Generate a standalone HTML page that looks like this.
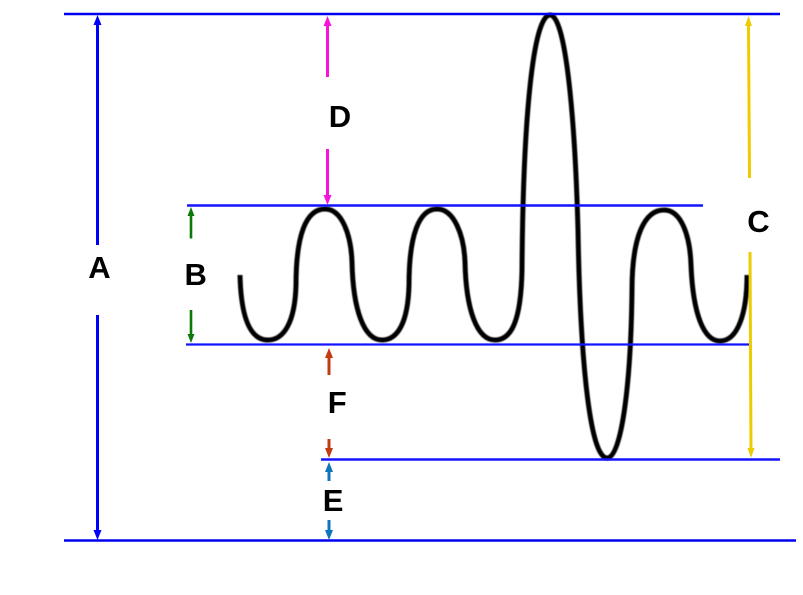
<!DOCTYPE html>
<html>
<head>
<meta charset="utf-8">
<style>
html,body{margin:0;padding:0;background:#fff;width:803px;height:595px;overflow:hidden}
svg{display:block}
text{font-family:"Liberation Sans",sans-serif;font-weight:bold;font-size:31px;fill:#000}
</style>
</head>
<body>
<svg width="803" height="595" viewBox="0 0 803 595" xmlns="http://www.w3.org/2000/svg">
<defs><filter id="soft" x="-5%" y="-5%" width="110%" height="110%"><feGaussianBlur stdDeviation="0.5"/></filter></defs>
<rect width="803" height="595" fill="#fff"/>
<path filter="url(#soft)" d="M240 275C241 318 250 340 268 340C284 340 295 322 296 285C296 235 306 209 325 209C342 209 351 235 352 262C353 310 364 340 382 340C398 340 408 322 409 285C409 235 419 209 437 209C454 209 464 235 465 262C466 310 477 340 495 340C511 340 521 322 522 270C523 120 533 15 550 15C566 15 575 120 578 230C580 350 589 458 607 458C622 458 631 380 632 290C632 235 645 210 664 210C681 210 690 235 691 265C693 315 704 341 720 341C737 341 747 315 747 275" fill="none" stroke="#000" stroke-width="5"/>
<g stroke="#1414ff" fill="none">
<path d="M64 14H780" stroke="#0000f0" stroke-width="2.4"/>
<path d="M64 540.5H796" stroke="#0000f0" stroke-width="2.4"/>
<path d="M187 205.5H703" stroke-width="2.6"/>
<path d="M186 344.5H749" stroke-width="2.2"/>
<path d="M321 459.500H780" stroke-width="2.6"/>
</g>
<g stroke="#0000ff" stroke-width="3"><path d="M97.5 24V245M97.5 315V532"/></g>
<path d="M97.5 15L93.500 25H101.500ZM97.5 540L93.500 530H101.500Z" fill="#0000ff"/>
<g stroke="#f414dc" stroke-width="3"><path d="M327.5 24V77M327.5 149V198"/></g>
<path d="M327.5 16L323.500 26H331.500ZM327.5 205L323.500 195H331.500Z" fill="#f414dc"/>
<g stroke="#0b7a0b" stroke-width="2.6"><path d="M191 214V238.500M191 310V336"/></g>
<path d="M191 207L187.500 216H194.500ZM191 343L187.500 334H194.500Z" fill="#0b7a0b"/>
<g stroke="#c23a10" stroke-width="3"><path d="M329 356V375M329 439V451"/></g>
<path d="M329 348L325 358H333ZM329 458L325 448H333Z" fill="#c23a10"/>
<g stroke="#0f75bd" stroke-width="3"><path d="M329 469V481M329 520V533"/></g>
<path d="M329 462L325 472H333ZM329 540L325 530H333Z" fill="#0f75bd"/>
<g stroke="#eccc00" stroke-width="3"><path d="M748.500 24L749.500 178M750 252L751 451"/></g>
<path d="M748.500 16L745 26H752ZM751 458L747.500 448H754.500Z" fill="#eccc00"/>
<text x="88.200" y="278">A</text>
<text x="184.500" y="285">B</text>
<text x="747.200" y="232">C</text>
<text x="328.800" y="127">D</text>
<text x="322.800" y="511">E</text>
<text x="327.800" y="413">F</text>
</svg>
</body>
</html>
